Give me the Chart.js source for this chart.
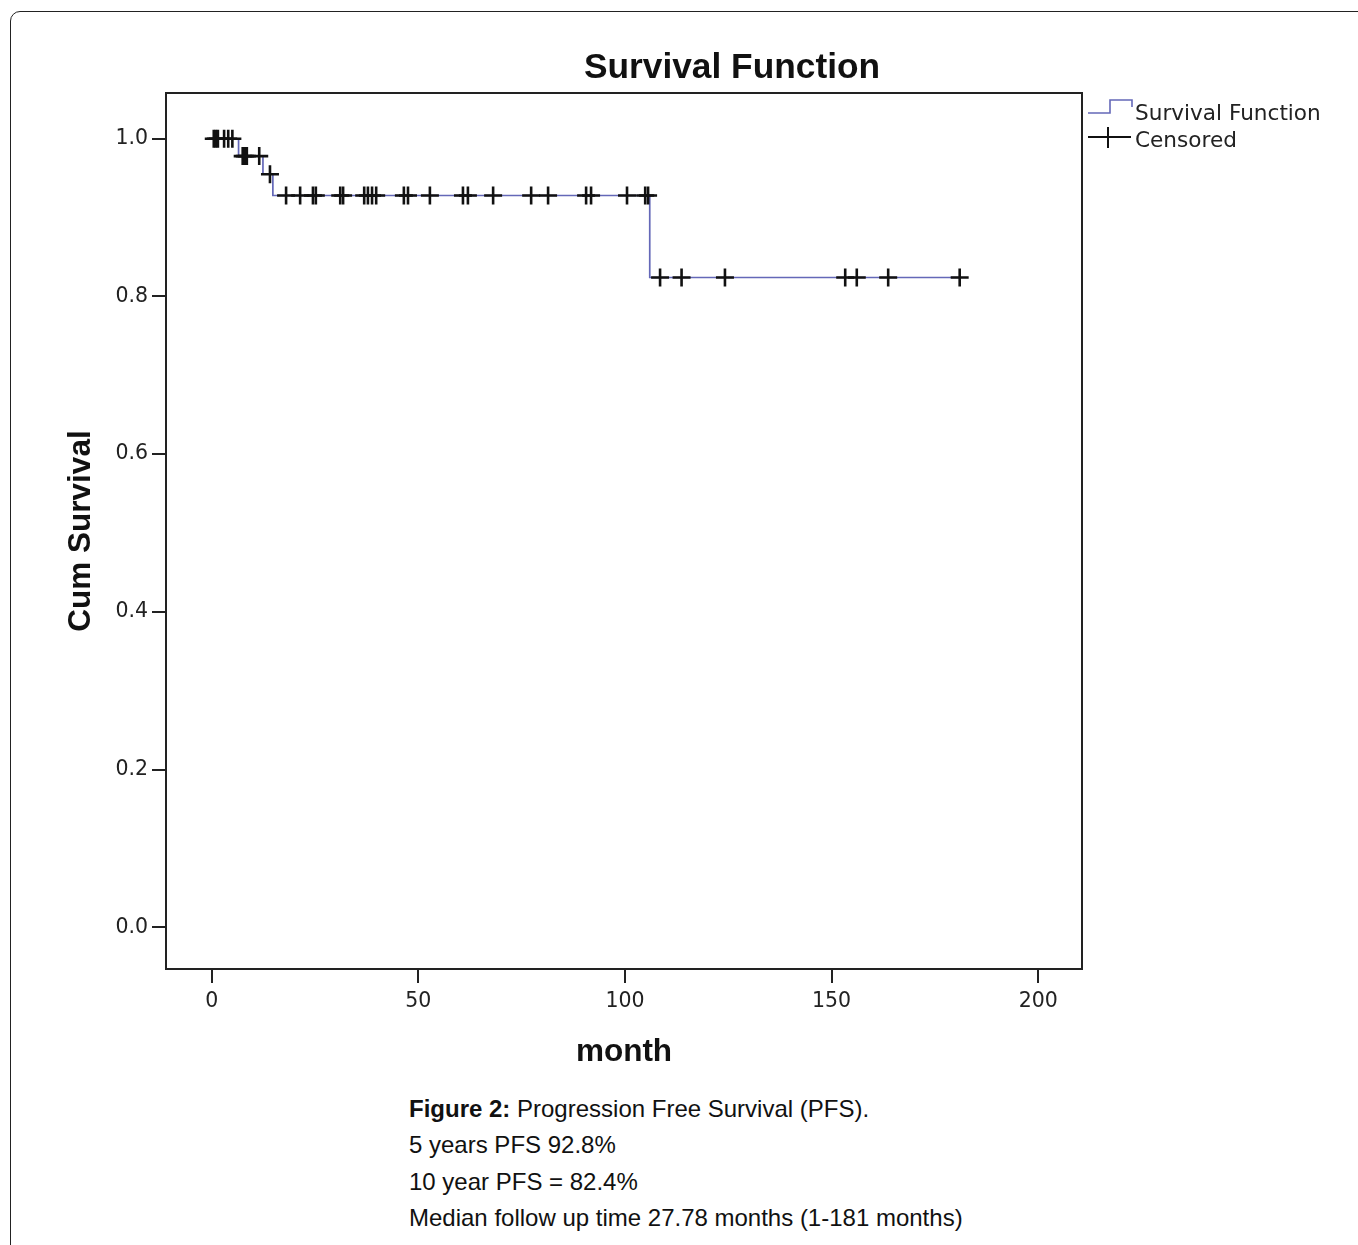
<!DOCTYPE html>
<html>
<head>
<meta charset="utf-8">
<title>Survival Function</title>
<script src="https://cdn.jsdelivr.net/npm/chart.js@4.4.1/dist/chart.umd.min.js"></script>
<style>
  html, body { margin: 0; padding: 0; background: #fff; overflow: hidden; }
  body { width: 1358px; height: 1245px; position: relative; }
  #frame {
    position: absolute; left: 10px; top: 11px; width: 1400px; height: 1300px;
    border: 1.5px solid #222; border-radius: 10px; box-sizing: border-box;
  }
  #chart { position: absolute; left: 0; top: 0; }
  #caption {
    position: absolute; left: 409px; top: 1091px;
    font-family: "Liberation Sans", Arial, sans-serif; font-size: 24px;
    line-height: 36.4px; color: #111;
  }
</style>
</head>
<body>
<div id="frame"></div>
<canvas id="chart" width="1358" height="1080"></canvas>
<div id="caption">
  <div><b>Figure 2:</b> Progression Free Survival (PFS).</div>
  <div>5 years PFS 92.8%</div>
  <div>10 year PFS = 82.4%</div>
  <div>Median follow up time 27.78 months (1-181 months)</div>
</div>
<script>
// axis ticks
const xTicks = [0, 50, 100, 150, 200];
const yTicks = [0.0, 0.2, 0.4, 0.6, 0.8, 1.0];

// Kaplan-Meier steps (month, cum survival)
const stepMonths = [0, 6.5, 12.4, 14.8, 106, 181];
const stepSurvival = [1.0, 0.978, 0.955, 0.928, 0.824, 0.824];

// censored cases (month)
const censoredMonths = [
    0.5, 1, 1.5, 3, 4, 5,
    7.5, 8, 8.5, 11.5,
    14.1,
    18, 21.4, 24.5, 25.2, 31.1, 31.8, 36.9, 37.8, 38.8, 39.8, 46.5, 47.5, 52.8,
    60.8, 62, 68.1, 77.3, 81.4, 90.6, 91.8, 100.5, 104.9, 105.6,
    108.5, 113.7, 124.2, 153.3, 156.1, 163.7, 181
];

const legendLabels = ['Survival Function', 'Censored'];
const titleText = 'Survival Function';
const xTitle = 'month';
const yTitle = 'Cum Survival';

const lineBlue = '#6468b8';
const ink = '#222';
const tickFont = { family: 'DejaVu Sans', size: 20.5 };

// level of the curve at a given month
function survivalAt(m) {
    let s = stepSurvival[0];
    stepMonths.forEach((t, i) => { if (t <= m) s = stepSurvival[i]; });
    return s;
}

const spssDecor = {
    id: 'spssDecor',
    afterDraw(chart) {
        const { ctx, chartArea: a } = chart;
        ctx.save();

        // plot box
        ctx.strokeStyle = ink;
        ctx.lineWidth = 2;
        ctx.strokeRect(a.left, a.top, a.right - a.left, a.bottom - a.top);

        // title
        ctx.fillStyle = '#111';
        ctx.textAlign = 'center';
        ctx.textBaseline = 'alphabetic';
        ctx.font = 'bold 35.3px "Liberation Sans", Arial, sans-serif';
        ctx.fillText(titleText, 732, 78);

        // axis titles
        ctx.font = 'bold 31.5px "Liberation Sans", Arial, sans-serif';
        ctx.fillText(xTitle, (a.left + a.right) / 2, 1061);
        ctx.save();
        ctx.translate(90, (a.top + a.bottom) / 2);
        ctx.rotate(-Math.PI / 2);
        ctx.fillText(yTitle, 0, 0);
        ctx.restore();

        // legend
        const lx = a.right + 6;
        const r1 = a.top + 19, r2 = a.top + 44;
        ctx.lineWidth = 1.6;
        ctx.strokeStyle = lineBlue;
        ctx.beginPath();
        ctx.moveTo(lx, r1 + 1);
        ctx.lineTo(lx + 22, r1 + 1);
        ctx.lineTo(lx + 22, r1 - 12);
        ctx.lineTo(lx + 44, r1 - 12);
        ctx.lineTo(lx + 44, r1 - 5);
        ctx.stroke();

        ctx.strokeStyle = '#111';
        ctx.lineWidth = 2;
        ctx.beginPath();
        ctx.moveTo(lx, r2);
        ctx.lineTo(lx + 43, r2);
        ctx.moveTo(lx + 20, r2 - 10);
        ctx.lineTo(lx + 20, r2 + 11);
        ctx.stroke();

        ctx.fillStyle = ink;
        ctx.textAlign = 'left';
        ctx.textBaseline = 'middle';
        ctx.font = '21.6px "DejaVu Sans", sans-serif';
        ctx.fillText(legendLabels[0], lx + 47, r1 + 2);
        ctx.fillText(legendLabels[1], lx + 47, r2 + 4);

        ctx.restore();
    }
};

new Chart(document.getElementById('chart'), {
    type: 'scatter',
    data: {
        datasets: [
            {
                type: 'line',
                label: legendLabels[0],
                data: stepMonths.map((m, i) => ({ x: m, y: stepSurvival[i] })),
                stepped: 'before',
                borderColor: lineBlue,
                borderWidth: 1.7,
                pointRadius: 0,
                fill: false,
                order: 2
            },
            {
                label: legendLabels[1],
                data: censoredMonths.map(m => ({ x: m, y: survivalAt(m) })),
                pointStyle: 'cross',
                pointRadius: 9,
                pointHoverRadius: 9,
                borderColor: '#111',
                backgroundColor: '#111',
                borderWidth: 2.6,
                order: 1
            }
        ]
    },
    options: {
        responsive: false,
        animation: false,
        events: [],
        layout: { padding: { left: 0, top: 93, right: 276, bottom: 11 } },
        plugins: {
            legend: { display: false },
            tooltip: { enabled: false },
            title: { display: false }
        },
        scales: {
            x: {
                type: 'linear',
                min: -11.06,
                max: 210.6,
                afterBuildTicks: s => { s.ticks = xTicks.map(v => ({ value: v })); },
                afterFit: s => { s.height = 100; },
                ticks: { font: tickFont, color: ink, padding: 6, callback: v => String(v) },
                grid: { drawOnChartArea: false, tickLength: 14, color: ink, lineWidth: 2 },
                border: { color: ink, width: 2 }
            },
            y: {
                type: 'linear',
                min: -0.053,
                max: 1.058,
                afterBuildTicks: s => { s.ticks = yTicks.map(v => ({ value: v })); },
                afterFit: s => { s.width = 166; },
                ticks: { font: tickFont, color: ink, padding: 4, callback: v => v.toFixed(1) },
                grid: { drawOnChartArea: false, tickLength: 14, color: ink, lineWidth: 2 },
                border: { color: ink, width: 2 }
            }
        }
    },
    plugins: [spssDecor]
});
</script>
</body>
</html>
